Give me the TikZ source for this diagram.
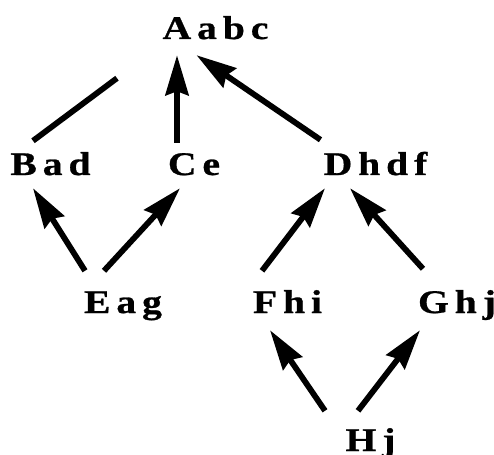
\documentclass[tikz,border=0pt]{standalone}
\usepackage{fontspec}
\setmainfont{Liberation Serif}[LetterSpace=18, FakeStretch=1.2, FakeBold=0.8]
\usepackage{tikz}
\usetikzlibrary{arrows.meta}

\begin{document}
\begin{tikzpicture}[node distance=136pt,
    lbl/.style={inner sep=0pt, text height=22pt, text depth=0pt, font=\bfseries\fontsize{33}{33}\selectfont},
    arr/.style={line width=5.8pt, -{Stealth[length=40pt, width=23pt, inset=4pt]}}]
    \useasboundingbox (-215.5pt,28pt) rectangle (278.5pt,-426pt);
    \node (A) [lbl] {Aabc};
    \node (B) [lbl, below of=A, xshift=-165pt] {Bad};
    \node (C) [lbl, below of=A, xshift=-21.5pt] {Ce};
    \node (D) [lbl, below of=A, xshift=160pt] {Dhdf};
    \node (E) [lbl, below of=B, xshift=72.5pt, yshift=-2pt] {Eag};
    \node (F) [lbl, below of=D, xshift=-88pt, yshift=-2pt] {Fhi};
    \node (G) [lbl, below of=D, xshift=81.5pt, yshift=-2pt] {Ghj};
    \node (H) [lbl, below of=F, xshift=83pt, yshift=-2pt] {Hj};

    \draw[line width=5.8pt] ([xshift=-17.5pt,yshift=12pt]B.north) -- ([xshift=-98.5pt,yshift=-39pt]A.south);
    \draw[arr] ([xshift=-17pt,yshift=10pt]C.north) -- ([xshift=-38.5pt,yshift=-16pt]A.south);
    \draw[arr] ([xshift=-55pt,yshift=13pt]D.north) -- ([xshift=-19pt,yshift=-16pt]A.south);
    \draw[arr] ([xshift=-38pt,yshift=20pt]E.north) -- ([xshift=-17.5pt,yshift=-13pt]B.south);
    \draw[arr] ([xshift=-19pt,yshift=20pt]E.north) -- ([xshift=-14pt,yshift=-13pt]C.south);
    \draw[arr] ([xshift=-25.5pt,yshift=20pt]F.north) -- ([xshift=-50.5pt,yshift=-13pt]D.south);
    \draw[arr] ([xshift=-34pt,yshift=22pt]G.north) -- ([xshift=-25.5pt,yshift=-13pt]D.south);
    \draw[arr] ([xshift=-45.5pt,yshift=18pt]H.north) -- ([xshift=-17.5pt,yshift=-17pt]F.south);
    \draw[arr] ([xshift=-12.5pt,yshift=18pt]H.north) -- ([xshift=-37pt,yshift=-17pt]G.south);
\end{tikzpicture}
\end{document}
